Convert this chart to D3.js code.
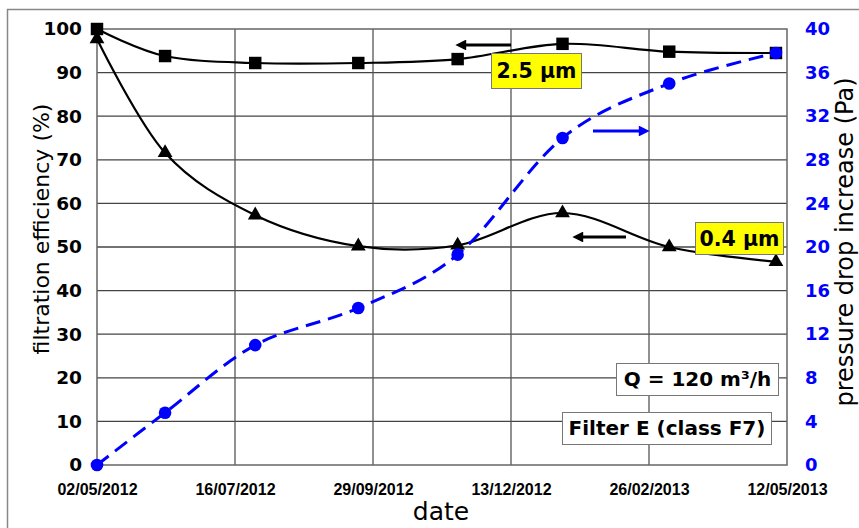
<!DOCTYPE html>
<html>
<head>
<meta charset="utf-8">
<script src="https://cdn.jsdelivr.net/npm/d3@7"></script>
<style>
  body { margin:0; background:#fff; }
  text { font-family: "DejaVu Sans", sans-serif; }
</style>
</head>
<body>
<div id="chart"></div>
<script>
/* data */
var dates = ["02/05/2012","08/06/2012","27/07/2012","21/09/2012","14/11/2012","10/01/2013","09/03/2013","06/05/2013"];
var eff25 = [100, 93.8, 92.2, 92.2, 93.1, 96.6, 94.8, 94.5];   // 2.5 µm, left axis
var eff04 = [97.7, 71.6, 57.3, 50.2, 50.4, 57.8, 50.0, 46.6];  // 0.4 µm, left axis
var dp    = [0, 4.8, 11.0, 14.4, 19.3, 30.0, 35.0, 37.8];       // pressure drop, right axis
var xTicks = ["02/05/2012","16/07/2012","29/09/2012","13/12/2012","26/02/2013","12/05/2013"];
var yTicksLeft = [0,10,20,30,40,50,60,70,80,90,100];
var yTicksRight = [0,4,8,12,16,20,24,28,32,36,40];

var W = 859, H = 528;
var margin = { top:29, right:72, bottom:63, left:97 };
var width = W - margin.left - margin.right;   // 690
var height = H - margin.top - margin.bottom;  // 436

var parse = d3.timeParse("%d/%m/%Y");
var fmt = d3.timeFormat("%d/%m/%Y");

var svg = d3.select("#chart").append("svg")
  .attr("width", W)
  .attr("height", H);

// outer frame
svg.append("rect")
  .attr("x", 7.5).attr("y", 9.5)
  .attr("width", W).attr("height", H)
  .attr("fill", "none").attr("stroke", "#888").attr("stroke-width", 1.5);

var g = svg.append("g")
  .attr("transform", "translate(" + margin.left + "," + margin.top + ")");

/* scales */
var x = d3.scaleTime()
  .domain([parse(xTicks[0]), parse(xTicks[xTicks.length - 1])])
  .range([0, width]);
var yL = d3.scaleLinear().domain([0, 100]).range([height, 0]);
var yR = d3.scaleLinear().domain([0, 40]).range([height, 0]);

/* gridlines */
g.append("g").selectAll("line").data(yTicksLeft.slice(1, -1)).enter()
  .append("line")
  .attr("x1", 0).attr("x2", width)
  .attr("y1", function(d){ return yL(d); }).attr("y2", function(d){ return yL(d); })
  .attr("stroke", "#444").attr("stroke-width", 1.3);

g.append("g").selectAll("line").data(xTicks.slice(1, -1)).enter()
  .append("line")
  .attr("x1", function(d){ return x(parse(d)); }).attr("x2", function(d){ return x(parse(d)); })
  .attr("y1", 0).attr("y2", height)
  .attr("stroke", "#555").attr("stroke-width", 1.3);

// plot frame
g.append("rect")
  .attr("x", 0).attr("y", 0).attr("width", width).attr("height", height)
  .attr("fill", "none").attr("stroke", "#666").attr("stroke-width", 1.5);

/* axes (tick labels only) */
var leftAxis = g.append("g")
  .call(d3.axisLeft(yL).tickValues(yTicksLeft).tickSize(0).tickPadding(15));
leftAxis.select(".domain").remove();
leftAxis.selectAll("text")
  .attr("font-size", "18.5px").attr("font-weight", "bold").attr("fill", "#000");

var rightAxis = g.append("g")
  .attr("transform", "translate(" + width + ",0)")
  .call(d3.axisRight(yR).tickValues(yTicksRight).tickSize(0).tickPadding(18));
rightAxis.select(".domain").remove();
rightAxis.selectAll("text")
  .attr("font-size", "18px").attr("font-weight", "bold").attr("fill", "#0000ff");

var bottomAxis = g.append("g")
  .attr("transform", "translate(0," + height + ")")
  .call(d3.axisBottom(x).tickValues(xTicks.map(parse)).tickFormat(fmt).tickSize(0).tickPadding(0));
bottomAxis.select(".domain").remove();
bottomAxis.selectAll("text")
  .attr("dy", null).attr("y", 30)
  .attr("font-size", "16px").attr("font-weight", "bold").attr("fill", "#000")
  .style("font-family", "'Liberation Sans', Arial, sans-serif");

/* axis titles */
svg.append("text")
  .attr("text-anchor", "middle")
  .attr("transform", "translate(49,229) rotate(-90)")
  .attr("font-size", "22px")
  .text("filtration efficiency (%)");

svg.append("text")
  .attr("text-anchor", "middle")
  .attr("transform", "translate(853,242) rotate(-90)")
  .attr("font-size", "24px")
  .text("pressure drop increase (Pa)");

svg.append("text")
  .attr("text-anchor", "middle")
  .attr("x", 441).attr("y", 520)
  .attr("font-size", "25px")
  .text("date");

/* series */
var pts25 = dates.map(function(d, i){ return { x: x(parse(d)), y: yL(eff25[i]) }; });
var pts04 = dates.map(function(d, i){ return { x: x(parse(d)), y: yL(eff04[i]) }; });
var ptsDp = dates.map(function(d, i){ return { x: x(parse(d)), y: yR(dp[i]) }; });

var line = d3.line()
  .x(function(d){ return d.x; })
  .y(function(d){ return d.y; })
  .curve(d3.curveCardinal.tension(0));

g.append("path").attr("d", line(pts04))
  .attr("fill", "none").attr("stroke", "#000").attr("stroke-width", 2.2);
g.append("path").attr("d", line(pts25))
  .attr("fill", "none").attr("stroke", "#000").attr("stroke-width", 2.2);
g.append("path").attr("d", line(ptsDp))
  .attr("fill", "none").attr("stroke", "#0000ff").attr("stroke-width", 3)
  .attr("stroke-dasharray", "15,8");

g.selectAll(".tri").data(pts04).enter().append("path")
  .attr("class", "tri")
  .attr("transform", function(d){ return "translate(" + d.x + "," + d.y + ")"; })
  .attr("d", d3.symbol().type(d3.symbolTriangle).size(95))
  .attr("fill", "#000");

g.selectAll(".sq").data(pts25).enter().append("path")
  .attr("class", "sq")
  .attr("transform", function(d){ return "translate(" + d.x + "," + d.y + ")"; })
  .attr("d", d3.symbol().type(d3.symbolSquare).size(155))
  .attr("fill", "#000");

g.selectAll(".dot").data(ptsDp).enter().append("circle")
  .attr("class", "dot")
  .attr("cx", function(d){ return d.x; })
  .attr("cy", function(d){ return d.y; })
  .attr("r", 6.3)
  .attr("fill", "#0000ff");

/* arrows */
var defs = svg.append("defs");
[["headK", "#000"], ["headB", "#0000ff"]].forEach(function(m){
  defs.append("marker")
    .attr("id", m[0])
    .attr("viewBox", "0 0 10 10")
    .attr("refX", 2).attr("refY", 5)
    .attr("markerWidth", 4.2).attr("markerHeight", 3.6)
    .attr("orient", "auto")
    .append("path").attr("d", "M0,0L10,5L0,10Z").attr("fill", m[1]);
});

function arrow(x1, y1, x2, y2, color, head){
  svg.append("line")
    .attr("x1", x1).attr("y1", y1).attr("x2", x2).attr("y2", y2)
    .attr("stroke", color).attr("stroke-width", 3)
    .attr("marker-end", "url(#" + head + ")");
}
arrow(511, 45, 464, 45, "#000", "headK");
arrow(626, 237, 581, 237, "#000", "headK");
arrow(593, 131, 641, 131, "#0000ff", "headB");

/* labels */
function label(x0, y0, w, h, txt, fill, size){
  svg.append("rect")
    .attr("x", x0 + 0.5).attr("y", y0 + 0.5).attr("width", w).attr("height", h)
    .attr("fill", fill).attr("stroke", "#777").attr("stroke-width", 1);
  svg.append("text")
    .attr("x", x0 + w / 2 + 0.5).attr("y", y0 + h / 2 + size * 0.37)
    .attr("text-anchor", "middle")
    .attr("font-size", size + "px").attr("font-weight", "bold")
    .text(txt);
}
label(491, 53, 90, 35, "2.5 µm", "#ffff00", 20.5);
label(695, 222, 88, 32, "0.4 µm", "#ffff00", 20.5);
label(616, 363, 162, 32, "Q = 120 m³/h", "#fff", 20);
label(562, 412, 209, 32, "Filter E (class F7)", "#fff", 20);
</script>
</body>
</html>
